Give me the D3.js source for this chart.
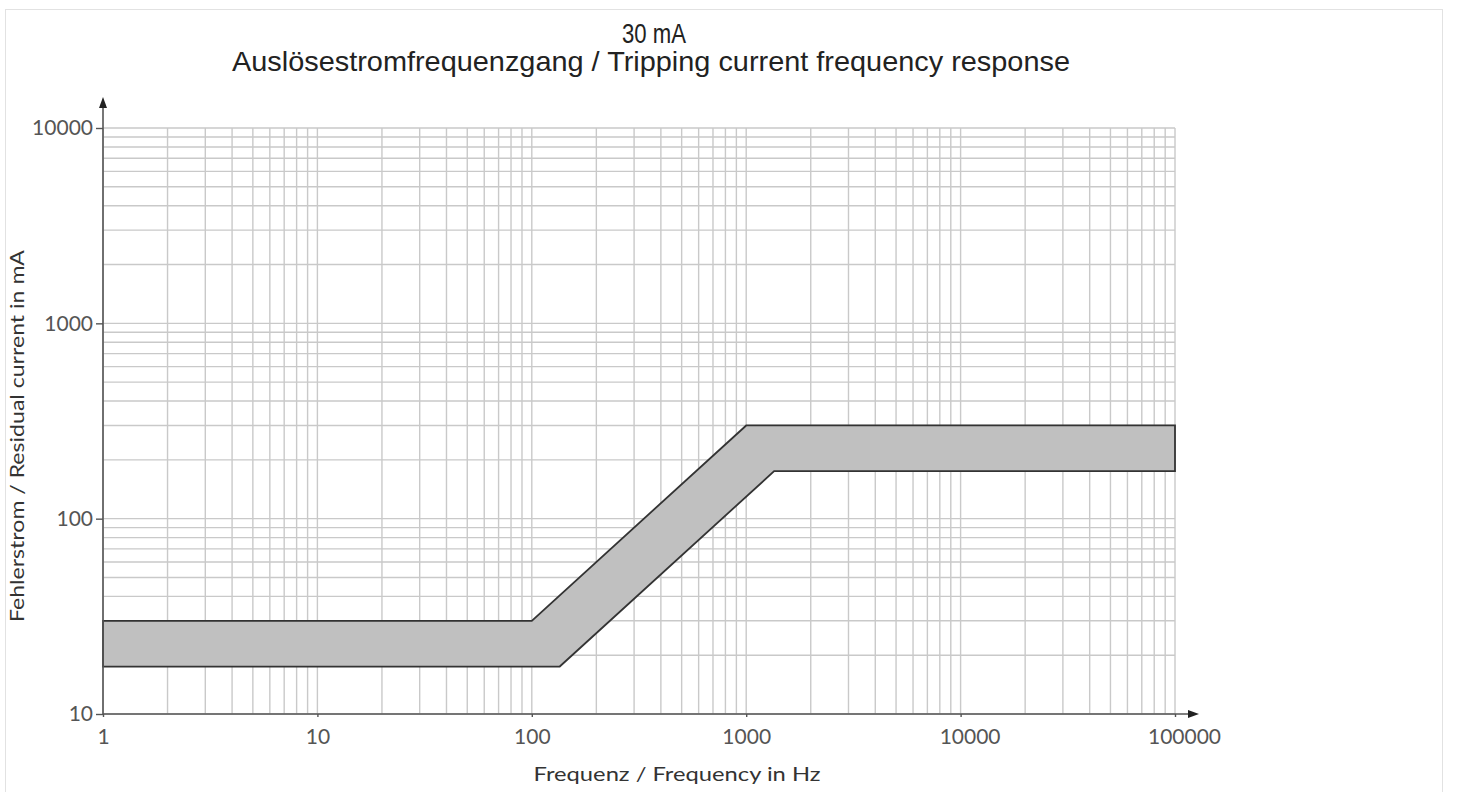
<!DOCTYPE html>
<html><head><meta charset="utf-8">
<script src="https://cdn.jsdelivr.net/npm/d3@7"></script>
<style>
html,body{margin:0;padding:0;background:#fff;}
svg{display:block;}
</style></head>
<body>
<svg id="chart" width="1458" height="792"></svg>
<script>
// ---- data ----
const titleLines = ["30 mA", "Auslösestromfrequenzgang / Tripping current frequency response"];
const xLabel = "Frequenz /  Frequency in Hz";
const yLabel = "Fehlerstrom /  Residual current in mA";
const xTicks = [1, 10, 100, 1000, 10000, 100000];
const yTicks = [10, 100, 1000, 10000];
const upperFreq = [1, 100, 1000, 100000];
const upperCurrent = [30, 30, 300, 300];
const lowerFreq = [1, 135, 1350, 100000];
const lowerCurrent = [17.5, 17.5, 175, 175];

const svg = d3.select("#chart");
const x = d3.scaleLog().domain([1, 100000]).range([103, 1175]);
const y = d3.scaleLog().domain([10, 10000]).range([714, 128]);

// frame
svg.append("rect").attr("x", 5.5).attr("y", 9.5).attr("width", 1437).attr("height", 800)
  .attr("fill", "none").attr("stroke", "#e2e2e2").attr("stroke-width", 1);

// grid
const minor = [];
for (let d = 1; d < 100000; d *= 10) for (let m = 1; m <= 9; m++) minor.push(d * m);
minor.push(100000);
const minorY = [];
for (let d = 10; d < 10000; d *= 10) for (let m = 1; m <= 9; m++) minorY.push(d * m);
minorY.push(10000);
const grid = svg.append("g").attr("stroke", "#c9c9c9").attr("stroke-width", 1.4);
grid.selectAll("line.v").data(minor).join("line")
  .attr("x1", d => x(d)).attr("x2", d => x(d)).attr("y1", y(10)).attr("y2", y(10000));
grid.selectAll("line.h").data(minorY).join("line")
  .attr("y1", d => y(d)).attr("y2", d => y(d)).attr("x1", x(1)).attr("x2", x(100000));

// band
const upperPts = upperFreq.map((f, i) => [x(f), y(upperCurrent[i])]);
const lowerPts = lowerFreq.map((f, i) => [x(f), y(lowerCurrent[i])]).reverse();
svg.append("path")
  .attr("d", d3.line()(upperPts.concat(lowerPts)) + "Z")
  .attr("fill", "#c0c0c0").attr("stroke", "#333").attr("stroke-width", 1.8)
  .attr("stroke-linejoin", "miter");

// axes lines + arrows
const axisColor = "#555";
svg.append("line").attr("x1", x(1)).attr("x2", x(1)).attr("y1", y(10)).attr("y2", 104)
  .attr("stroke", axisColor).attr("stroke-width", 1.6);
svg.append("path").attr("d", `M${x(1)},97 L${x(1)-4},108 L${x(1)+4},108 Z`).attr("fill", "#222");
svg.append("line").attr("x1", x(1)).attr("x2", 1192).attr("y1", y(10)).attr("y2", y(10))
  .attr("stroke", axisColor).attr("stroke-width", 1.6);
svg.append("path").attr("d", `M1199,${y(10)} L1188,${y(10)-4} L1188,${y(10)+4} Z`).attr("fill", "#222");

const tickFont = "'Lato','Open Sans',sans-serif";
const yAxis = svg.append("g").attr("transform", `translate(${x(1)},0)`)
  .call(d3.axisLeft(y).tickValues(yTicks).tickFormat(d3.format("d")).tickSize(7).tickPadding(3));
yAxis.select(".domain").remove();
yAxis.selectAll("line").attr("stroke", axisColor).attr("stroke-width", 1.4);
yAxis.selectAll("text").attr("fill", "#555").style("font-family", tickFont).style("font-size", "21px");

const xAxis = svg.append("g").attr("transform", `translate(0,${y(10)})`)
  .call(d3.axisBottom(x).tickValues(xTicks).tickFormat(d3.format("d")).tickSize(3).tickPadding(12));
xAxis.select(".domain").remove();
xAxis.selectAll("line").attr("stroke", axisColor).attr("stroke-width", 1.4);
xAxis.selectAll("text").attr("fill", "#555").style("font-family", tickFont).style("font-size", "21px")
  .attr("dx", (d, i) => (i >= 4 ? 9 : 0));

// titles
const titleFont = "'Liberation Sans Narrow','Liberation Sans',Arial,sans-serif";
svg.append("text").attr("x", 654).attr("y", 43).attr("text-anchor", "middle")
  .style("font-family", titleFont).style("font-size", "28px").attr("fill", "#222")
  .attr("textLength", 64).attr("lengthAdjust", "spacingAndGlyphs").text(titleLines[0]);
svg.append("text").attr("x", 651).attr("y", 71).attr("text-anchor", "middle")
  .style("font-family", titleFont).style("font-size", "28px").attr("fill", "#222")
  .attr("textLength", 838).attr("lengthAdjust", "spacingAndGlyphs").text(titleLines[1]);

// axis labels
svg.append("text").attr("x", 677).attr("y", 781).attr("text-anchor", "middle")
  .style("font-family", tickFont).style("font-size", "19px").attr("fill", "#333")
  .attr("textLength", 287).attr("lengthAdjust", "spacingAndGlyphs").text(xLabel);
svg.append("text").attr("transform", "translate(24,436) rotate(-90)").attr("text-anchor", "middle")
  .style("font-family", tickFont).style("font-size", "19px").attr("fill", "#333")
  .attr("textLength", 372).attr("lengthAdjust", "spacingAndGlyphs").text(yLabel);
</script>
</body></html>
